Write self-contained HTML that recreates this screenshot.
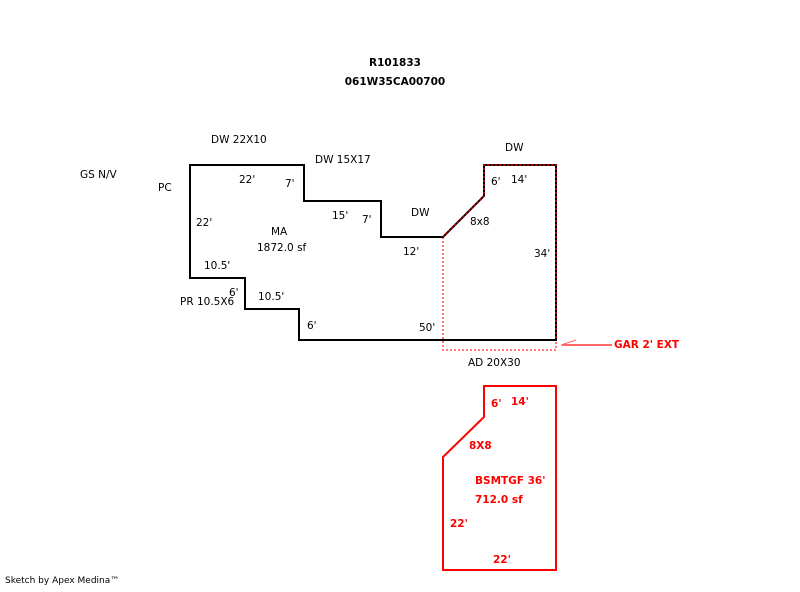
<!DOCTYPE html>
<html><head><style>
body{margin:0;background:#fff;}
svg text{font-family:"DejaVu Sans","Liberation Sans",sans-serif;font-size:10.5px;fill:#000;}
.r{fill:#f00;font-weight:bold;}
</style></head><body>
<svg width="800" height="587" viewBox="0 0 800 587" xmlns="http://www.w3.org/2000/svg">
<text x="395" y="66" text-anchor="middle" font-weight="bold">R101833</text>
<text x="395" y="85" text-anchor="middle" font-weight="bold">061W35CA00700</text>
<polyline points="443,237 443,350 556,350 556,340" fill="none" stroke="#f77" stroke-width="2" stroke-dasharray="2,2"/>
<polygon points="190,165 304,165 304,201 381,201 381,237 443,237 484,196 484,165 556,165 556,340 299,340 299,309 245,309 245,278 190,278" fill="none" stroke="#000" stroke-width="2"/>
<polyline points="443,237 484,196 484,165 556,165 556,340" fill="none" stroke="#a00" stroke-width="2" stroke-dasharray="2,2"/>
<polygon points="484,386 556,386 556,570 443,570 443,457 484,417" fill="none" stroke="#f00" stroke-width="2"/>
<polyline points="561,345 576,340" stroke="#f66" stroke-width="1" fill="none"/>
<line x1="562" y1="345" x2="612" y2="345" stroke="#f66" stroke-width="2"/>
<text x="211" y="143">DW 22X10</text>
<text x="315" y="163">DW 15X17</text>
<text x="505" y="151">DW</text>
<text x="80" y="178">GS N/V</text>
<text x="158" y="191">PC</text>
<text x="239" y="183">22'</text>
<text x="285" y="187">7'</text>
<text x="196" y="226">22'</text>
<text x="332" y="219">15'</text>
<text x="362" y="223">7'</text>
<text x="411" y="216">DW</text>
<text x="271" y="235">MA</text>
<text x="257" y="251">1872.0 sf</text>
<text x="403" y="255">12'</text>
<text x="491" y="185">6'</text>
<text x="511" y="183">14'</text>
<text x="470" y="225">8x8</text>
<text x="534" y="257">34'</text>
<text x="204" y="269">10.5'</text>
<text x="229" y="296">6'</text>
<text x="180" y="305">PR 10.5X6</text>
<text x="258" y="300">10.5'</text>
<text x="307" y="329">6'</text>
<text x="419" y="331">50'</text>
<text x="468" y="366">AD 20X30</text>
<text x="614" y="348" class="r">GAR 2' EXT</text>
<text x="491" y="407" class="r">6'</text>
<text x="511" y="405" class="r">14'</text>
<text x="469" y="449" class="r">8X8</text>
<text x="475" y="484" class="r">BSMTGF 36'</text>
<text x="475" y="503" class="r">712.0 sf</text>
<text x="450" y="527" class="r">22'</text>
<text x="493" y="563" class="r">22'</text>
<text x="5" y="583" style="font-size:9px">Sketch by Apex Medina™</text>
</svg>
</body></html>
